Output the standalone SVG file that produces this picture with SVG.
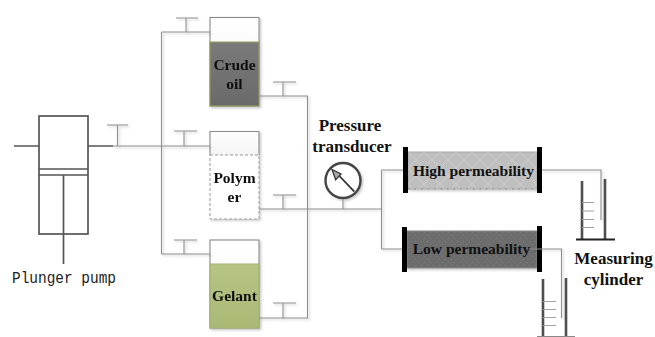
<svg xmlns="http://www.w3.org/2000/svg" width="655" height="337" viewBox="0 0 655 337">
<style>
.p{fill:none;stroke:#8f8f8f;stroke-width:1.1}
.d{fill:none;stroke:#555;stroke-width:1.7}
.w{fill:none;stroke:#4f4f4f;stroke-width:2.6}
.t{stroke:#a0a0a0;stroke-width:1;fill:none}
.b{font-family:"Liberation Serif",serif;font-weight:bold;font-size:15.5px;fill:#111;text-anchor:middle}
.l{font-size:17px}
.tank{fill:url(#top);stroke:#8a8a8a;stroke-width:1.1}
.cap{fill:#000}
</style>
<defs>
<filter id="s" x="-10%" y="-10%" width="125%" height="125%"><feDropShadow dx="1.5" dy="1.5" stdDeviation="1" flood-color="#000" flood-opacity=".22"/></filter>
<linearGradient id="top" x1="0" y1="0" x2="0" y2="1"><stop offset="0" stop-color="#fff"/><stop offset="1" stop-color="#f4f4f4"/></linearGradient>
<linearGradient id="oil" x1="0" y1="0" x2="0" y2="1"><stop offset="0" stop-color="#7a7a7a"/><stop offset="1" stop-color="#6a6a6a"/></linearGradient>
<linearGradient id="gel" x1="0" y1="0" x2="0" y2="1"><stop offset="0" stop-color="#b6c484"/><stop offset="1" stop-color="#a9b976"/></linearGradient>
<pattern id="hatch" width="16" height="16" patternUnits="userSpaceOnUse"><rect width="16" height="16" fill="#bfbfbf"/><path d="M0 0L16 16M16 0L0 16" stroke="#d0d0d0" stroke-width=".8"/></pattern>
<pattern id="dots" width="6" height="6" patternUnits="userSpaceOnUse"><rect width="6" height="6" fill="#6c6c6c"/><circle cx="1.5" cy="1.5" r=".8" fill="#7a7a7a"/><circle cx="4.5" cy="4.5" r=".8" fill="#7a7a7a"/></pattern>
</defs>

<g id="plunger-pump">
<rect class="d" x="39" y="116" width="49" height="118"/>
<path class="d" d="M14 146H39M88 146H113M39 169H88M39 175H88M63.500 175V264"/>
<text x="12" y="283" font-family="Liberation Mono,monospace" font-size="16" fill="#222" textLength="104" lengthAdjust="spacingAndGlyphs">Plunger pump</text>
</g>

<g id="crude-oil" filter="url(#s)">
<rect class="tank" x="210" y="17.500" width="49" height="88.500"/>
<rect x="210" y="42" width="49" height="64" fill="url(#oil)" stroke="#9c9c58" stroke-width="1"/>
<text class="b" x="234.500" y="70">Crude</text><text class="b" x="234.500" y="88.500">oil</text>
</g>

<g id="polymer" filter="url(#s)">
<path class="tank" d="M210 155V131.500H259V155"/>
<rect x="210" y="155" width="49" height="64" fill="#fff" stroke="#999" stroke-width="1" stroke-dasharray="3 2"/>
<text class="b" x="234.500" y="183">Polym</text><text class="b" x="234.500" y="202">er</text>
</g>

<g id="gelant" filter="url(#s)">
<rect class="tank" x="210" y="240" width="49" height="88"/>
<rect x="210" y="264" width="49" height="64" fill="url(#gel)" stroke="#a2b070" stroke-width="1"/>
<text class="b" x="234.500" y="301">Gelant</text>
</g>

<g id="pressure-transducer">
<circle cx="343" cy="180.500" r="17.500" fill="#fff" stroke="#444" stroke-width="2.400" filter="url(#s)"/>
<path d="M354.300 191.700L338 174.500" stroke="#333" stroke-width="1.800" fill="none"/>
<path d="M332 169.500L341 174L335.700 179.800Z" fill="#aaa" stroke="#333" stroke-width="1.300"/>
<text class="b l" x="350" y="131">Pressure</text><text class="b l" x="352" y="152">transducer</text>
</g>

<g id="high-permeability">
<rect x="408" y="152" width="129" height="37" fill="url(#hatch)" stroke="#aaa" stroke-width="1" filter="url(#s)"/>
<path d="M408 189H537" stroke="#888" stroke-width="1" stroke-dasharray="1.500 5"/>
<rect class="cap" x="403" y="147" width="5" height="46"/><rect class="cap" x="537" y="147" width="5" height="46"/>
<text class="b" x="473.500" y="176">High permeability</text>
</g>

<g id="low-permeability">
<rect x="407" y="231" width="130" height="37" fill="url(#dots)" stroke="#888" stroke-width="1" filter="url(#s)"/>
<rect class="cap" x="402" y="227" width="5" height="45"/><rect class="cap" x="537" y="226" width="5" height="46"/>
<text class="b" x="471.500" y="254">Low permeability</text>
</g>

<g id="measuring-cylinder-1">
<path class="w" d="M582 181V240M605 179V240"/>
<path d="M576 239.500H615" stroke="#222" stroke-width="2.200"/>
<path class="t" d="M582 202.500H594M582 211H594M582 219.500H594M582 227.500H594"/>
<text class="b l" x="613.500" y="264">Measuring</text><text class="b l" x="613.500" y="285">cylinder</text>
</g>

<g id="measuring-cylinder-2">
<path class="w" d="M543 279V337M566 278V337"/>
<path d="M537 336.500H575" stroke="#888" stroke-width="1"/>
<path class="t" d="M543 301.500H556M543 309.500H556M543 317.500H556M543 325.500H556"/>
</g>

<g id="connectors" filter="url(#s)">
<path class="p" d="M113 146H210M161.500 32V254M161.500 32H210M161.500 254H210"/>
<path class="p" d="M259 96H307.500V318H259M259 209H381.500M381.500 170V249M381.500 170H403M381.500 249H402"/>
<path class="p" d="M343 199V209"/>
<path class="p" d="M542 170H601V220M530 249H561.500V318"/>
<path class="p" d="M117.500 125V146M107 125H128M186 18V32M176 18H198M184 131V146M174 131H197M184 240V254M174 240H197M283 82V96M273 82H296M283 195V209M273 195H296M283 303V318M273 303H296"/>
</g>
</svg>
